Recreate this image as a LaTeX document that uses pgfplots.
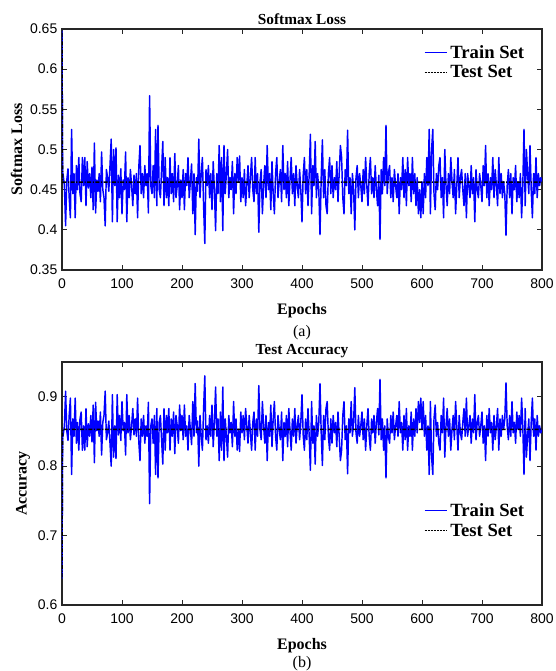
\documentclass[border=0pt]{standalone}
\usepackage{fontspec}
\setmainfont{Liberation Serif}
\newfontfamily\ticksf{Liberation Sans}
\usepackage{pgfplots}
\usepackage{pgfplotstable}
\pgfplotsset{compat=1.18}

% epoch, softmax loss (train), accuracy (train)
\pgfplotstableread{
ep loss acc
0 0.648 0.638
1 0.472 0.841
2 0.468 0.845
4 0.455 0.858
6 0.405 0.908
8 0.462 0.851
10 0.476 0.837
12 0.440 0.873
14 0.415 0.898
16 0.525 0.788
18 0.445 0.868
20 0.470 0.843
22 0.415 0.898
24 0.480 0.833
26 0.450 0.863
28 0.490 0.823
30 0.445 0.868
32 0.435 0.878
34 0.490 0.823
36 0.455 0.858
38 0.490 0.823
40 0.430 0.883
42 0.485 0.828
44 0.452 0.861
46 0.470 0.843
48 0.440 0.873
50 0.478 0.835
52 0.425 0.888
54 0.508 0.805
56 0.421 0.892
58 0.462 0.851
60 0.448 0.865
62 0.470 0.843
64 0.435 0.878
66 0.497 0.816
68 0.450 0.863
70 0.440 0.873
72 0.405 0.908
74 0.475 0.838
76 0.465 0.848
78 0.448 0.865
80 0.480 0.833
82 0.513 0.800
84 0.410 0.903
86 0.500 0.813
88 0.455 0.858
90 0.502 0.811
92 0.410 0.903
94 0.468 0.845
96 0.440 0.873
98 0.476 0.837
100 0.420 0.893
102 0.462 0.851
104 0.450 0.863
106 0.497 0.816
108 0.410 0.903
110 0.465 0.848
112 0.440 0.873
114 0.475 0.838
116 0.455 0.858
118 0.430 0.883
120 0.468 0.845
122 0.445 0.868
124 0.470 0.843
126 0.415 0.898
128 0.478 0.835
130 0.505 0.808
132 0.445 0.868
134 0.470 0.843
136 0.440 0.873
138 0.480 0.833
140 0.455 0.858
142 0.470 0.843
144 0.421 0.892
146 0.567 0.746
148 0.455 0.858
150 0.445 0.868
152 0.480 0.833
154 0.440 0.873
156 0.525 0.788
158 0.430 0.883
160 0.530 0.783
162 0.450 0.863
164 0.440 0.873
166 0.475 0.838
168 0.510 0.803
170 0.430 0.883
172 0.490 0.823
174 0.440 0.873
176 0.465 0.848
178 0.430 0.883
180 0.490 0.823
182 0.445 0.868
184 0.470 0.843
186 0.435 0.878
188 0.495 0.818
190 0.440 0.873
192 0.455 0.858
194 0.480 0.833
196 0.425 0.888
198 0.462 0.851
200 0.440 0.873
202 0.475 0.838
204 0.425 0.888
206 0.470 0.843
208 0.455 0.858
210 0.490 0.823
212 0.440 0.873
214 0.460 0.853
216 0.482 0.831
218 0.420 0.893
220 0.470 0.843
222 0.394 0.919
224 0.465 0.848
226 0.448 0.865
228 0.513 0.800
230 0.440 0.873
232 0.470 0.843
234 0.490 0.823
236 0.430 0.883
238 0.383 0.930
240 0.475 0.838
242 0.455 0.858
244 0.480 0.833
246 0.440 0.873
248 0.470 0.843
250 0.425 0.888
252 0.485 0.828
254 0.450 0.863
256 0.399 0.914
258 0.470 0.843
260 0.445 0.868
262 0.505 0.808
264 0.435 0.878
266 0.490 0.823
268 0.399 0.914
270 0.505 0.808
272 0.445 0.868
274 0.470 0.843
276 0.500 0.813
278 0.440 0.873
280 0.465 0.848
282 0.450 0.863
284 0.485 0.828
286 0.420 0.893
288 0.470 0.843
290 0.445 0.868
292 0.490 0.823
294 0.460 0.853
296 0.492 0.821
298 0.435 0.878
300 0.465 0.848
302 0.440 0.873
304 0.475 0.838
306 0.430 0.883
308 0.455 0.858
310 0.480 0.833
312 0.440 0.873
314 0.465 0.848
316 0.490 0.823
318 0.450 0.863
320 0.435 0.878
322 0.490 0.823
324 0.445 0.868
326 0.470 0.843
328 0.397 0.916
330 0.460 0.853
332 0.475 0.838
334 0.420 0.893
336 0.455 0.858
338 0.480 0.833
340 0.440 0.873
342 0.505 0.808
344 0.450 0.863
346 0.470 0.843
348 0.425 0.888
350 0.485 0.828
352 0.445 0.868
354 0.420 0.893
356 0.470 0.843
358 0.490 0.823
360 0.440 0.873
362 0.460 0.853
364 0.475 0.838
366 0.435 0.878
368 0.505 0.808
370 0.450 0.863
372 0.470 0.843
374 0.440 0.873
376 0.485 0.828
378 0.430 0.883
380 0.462 0.851
382 0.490 0.823
384 0.445 0.868
386 0.470 0.843
388 0.430 0.883
390 0.480 0.833
392 0.455 0.858
394 0.440 0.873
396 0.475 0.838
398 0.450 0.863
400 0.410 0.903
402 0.468 0.845
404 0.490 0.823
406 0.445 0.868
408 0.475 0.838
410 0.430 0.883
412 0.470 0.843
414 0.519 0.794
416 0.420 0.893
418 0.480 0.833
420 0.455 0.858
422 0.510 0.803
424 0.440 0.873
426 0.470 0.843
428 0.450 0.863
430 0.394 0.919
432 0.465 0.848
434 0.512 0.801
436 0.440 0.873
438 0.475 0.838
440 0.430 0.883
442 0.420 0.893
444 0.470 0.843
446 0.490 0.823
448 0.445 0.868
450 0.480 0.833
452 0.440 0.873
454 0.465 0.848
456 0.450 0.863
458 0.485 0.828
460 0.435 0.878
462 0.470 0.843
464 0.505 0.808
466 0.490 0.823
468 0.440 0.873
470 0.420 0.893
472 0.475 0.838
474 0.455 0.858
476 0.524 0.789
478 0.445 0.868
480 0.465 0.848
482 0.420 0.893
484 0.470 0.843
486 0.450 0.863
488 0.400 0.913
490 0.465 0.848
492 0.480 0.833
494 0.440 0.873
496 0.470 0.843
498 0.455 0.858
500 0.435 0.878
502 0.475 0.838
504 0.445 0.868
506 0.490 0.823
508 0.455 0.858
510 0.430 0.883
512 0.470 0.843
514 0.490 0.823
516 0.445 0.868
518 0.465 0.848
520 0.440 0.873
522 0.480 0.833
524 0.450 0.863
526 0.430 0.883
528 0.468 0.845
530 0.388 0.925
532 0.475 0.838
534 0.445 0.868
536 0.490 0.823
538 0.455 0.858
540 0.530 0.783
542 0.445 0.868
544 0.470 0.843
546 0.480 0.833
548 0.440 0.873
550 0.465 0.848
552 0.435 0.878
554 0.475 0.838
556 0.455 0.858
558 0.440 0.873
560 0.470 0.843
562 0.420 0.893
564 0.465 0.848
566 0.450 0.863
568 0.490 0.823
570 0.440 0.873
572 0.475 0.838
574 0.430 0.883
576 0.490 0.823
578 0.455 0.858
580 0.470 0.843
582 0.435 0.878
584 0.490 0.823
586 0.445 0.868
588 0.470 0.843
590 0.430 0.883
592 0.465 0.848
594 0.420 0.893
596 0.450 0.863
598 0.415 0.898
600 0.460 0.853
602 0.420 0.893
604 0.470 0.843
606 0.440 0.873
608 0.490 0.823
610 0.455 0.858
612 0.525 0.788
614 0.420 0.893
616 0.500 0.813
618 0.525 0.788
620 0.445 0.868
622 0.425 0.888
624 0.470 0.843
626 0.450 0.863
628 0.480 0.833
630 0.490 0.823
632 0.440 0.873
634 0.465 0.848
636 0.415 0.898
638 0.500 0.813
640 0.455 0.858
642 0.430 0.883
644 0.470 0.843
646 0.445 0.868
648 0.490 0.823
650 0.460 0.853
652 0.440 0.873
654 0.475 0.838
656 0.420 0.893
658 0.455 0.858
660 0.490 0.823
662 0.440 0.873
664 0.465 0.848
666 0.475 0.838
668 0.450 0.863
670 0.430 0.883
672 0.470 0.843
674 0.415 0.898
676 0.470 0.843
678 0.455 0.858
680 0.440 0.873
682 0.480 0.833
684 0.445 0.868
686 0.465 0.848
688 0.410 0.903
690 0.475 0.838
692 0.450 0.863
694 0.440 0.873
696 0.470 0.843
698 0.455 0.858
700 0.435 0.878
702 0.480 0.833
704 0.455 0.858
706 0.505 0.808
708 0.440 0.873
710 0.470 0.843
712 0.430 0.883
714 0.465 0.848
716 0.450 0.863
718 0.490 0.823
720 0.440 0.873
722 0.475 0.838
724 0.455 0.858
726 0.430 0.883
728 0.490 0.823
730 0.445 0.868
732 0.470 0.843
734 0.440 0.873
736 0.460 0.853
738 0.445 0.868
740 0.393 0.920
742 0.455 0.858
744 0.475 0.838
746 0.440 0.873
748 0.470 0.843
750 0.420 0.893
752 0.465 0.848
754 0.450 0.863
756 0.480 0.833
758 0.435 0.878
760 0.460 0.853
762 0.440 0.873
764 0.470 0.843
766 0.415 0.898
768 0.455 0.858
770 0.525 0.788
772 0.430 0.883
774 0.500 0.813
776 0.470 0.843
778 0.445 0.868
780 0.505 0.808
782 0.450 0.863
784 0.415 0.898
786 0.470 0.843
788 0.445 0.868
790 0.490 0.823
792 0.440 0.873
794 0.470 0.843
796 0.455 0.858
798 0.465 0.848
800 0.460 0.853
}\traindata

\pgfplotsset{
  subfig/.style={
    scale only axis,
    width=360pt,
    xmin=0, xmax=800,
    xtick={0,100,200,300,400,500,600,700,800},
    tick align=inside,
    major tick length=4pt,
    axis line style={line width=0.8pt, black!85},
    every tick/.style={black!85, line width=0.6pt},
    tick label style={font=\ticksf\fontsize{10.5}{12}\selectfont},
    xticklabel style={yshift=-3pt},
    /pgf/number format/assume math mode=true,
    yticklabel style={/pgf/number format/fixed, /pgf/number format/precision=2},
    title style={font=\bfseries\fontsize{11.5}{13}\selectfont, yshift=-6.5pt},
    xlabel style={font=\fontsize{12}{17}\selectfont, align=center, yshift=-4pt},
    ylabel style={font=\bfseries\fontsize{12}{13}\selectfont, yshift=-1pt},
    legend cell align=left,
    legend style={draw=none, fill=none, inner sep=0pt,
      font=\bfseries\fontsize{14}{15}\selectfont, row sep=0pt},
  },
  trainline/.style={blue, line width=1.1pt, line join=round},
  testline/.style={black, line width=1.1pt, dash pattern=on 3pt off 1.2pt on 0.8pt off 1.2pt},
  trainleg/.style={blue, line width=0.8pt},
  testleg/.style={black, line width=0.8pt, dash pattern=on 1.5pt off 0.8pt},
}

\begin{document}
\begin{tikzpicture}
\begin{axis}[subfig,
  at={(0,0)}, anchor=north west,
  height=180.75pt,
  ymin=0.35, ymax=0.65,
  ytick={0.35,0.4,0.45,0.5,0.55,0.6,0.65},
  title={Softmax Loss},
  xlabel={\textbf{Epochs}\\(a)},
  ylabel={Softmax Loss},
  legend image code/.code={\draw[#1] (0pt,0pt) -- (17pt,0pt);},
  legend style={at={(0.969,0.945)}, anchor=north east},
]
\addlegendimage{trainleg}
\addlegendentry{Train Set}
\addlegendimage{testleg}
\addlegendentry{Test Set}
\addplot[trainline, forget plot] table[x=ep, y=loss] {\traindata};
\addplot[testline, forget plot] coordinates {(0,0.645) (1,0.4595) (800,0.4595)};
\end{axis}

\begin{axis}[subfig,
  at={(0,-249.75pt)}, anchor=north west,
  height=182.25pt,
  ymin=0.6, ymax=0.95,
  ytick={0.6,0.7,0.8,0.9},
  title={Test Accuracy},
  xlabel={\textbf{Epochs}\\[-3.5pt](b)},
  ylabel={Accuracy},
  legend image code/.code={\draw[#1] (0pt,0pt) -- (17pt,0pt);},
  legend style={at={(0.969,0.43)}, anchor=north east},
]
\addlegendimage{trainleg}
\addlegendentry{Train Set}
\addlegendimage{testleg}
\addlegendentry{Test Set}
\addplot[trainline, forget plot] table[x=ep, y=acc] {\traindata};
\addplot[testline, forget plot] coordinates {(0,0.64) (1,0.853) (800,0.853)};
\end{axis}
\pgfresetboundingbox
\useasboundingbox (-46.5pt,21.75pt) rectangle (370.5pt,-481.5pt);
\end{tikzpicture}
\end{document}
